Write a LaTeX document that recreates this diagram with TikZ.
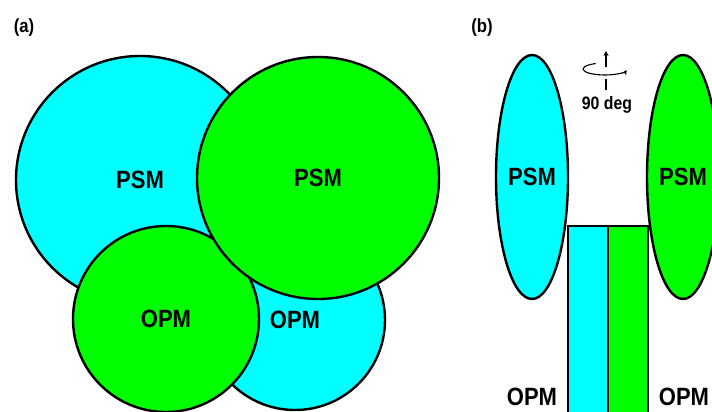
\documentclass[tikz,border=0pt]{standalone}
\usepackage{fontspec}
\setmainfont{Liberation Sans}[FakeStretch=0.88]
\usepackage{tikz}
\usetikzlibrary{positioning,arrows.meta,shapes.geometric}

\begin{document}
\begin{tikzpicture}[x=1pt,y=-1pt]
	\definecolor{magcyan}{RGB}{0,255,255}
	\definecolor{maggreen}{RGB}{0,255,0}
	\tikzset{
		magtext/.style={font=\fontsize{25}{30}\selectfont\bfseries, text=black},
		magdisc/.style={
			shape=circle,
			draw=black,
			line width=2.4pt,
			inner sep=0pt,
			magtext
		},
		magoval/.style={
			shape=ellipse,
			draw=black,
			line width=2.4pt,
			inner sep=0pt,
			minimum width=72pt,
			minimum height=244pt,
			magtext
		},
		magbar/.style={
			shape=rectangle,
			draw=black,
			line width=2.4pt,
			minimum width=40pt,
			minimum height=200pt,
			anchor=north west,
			inner sep=0pt
		},
		panel/.style={font=\fontsize{19}{22}\selectfont\bfseries},
		rotarrow/.style={line width=1.1pt, -{Stealth[length=5pt,width=5pt]}}
	}
	\useasboundingbox (0,0) rectangle (712,412);

	% (a) four magnets seen from the front
	\node[panel] (pa) at (24,28) {(a)};
	\node[magdisc, fill=magcyan, minimum size=248pt] (psmA) at (140,180) {PSM};
	\node[magdisc, fill=magcyan, minimum size=180pt] (opmA) at (295,320) {OPM};
	\node[magdisc, fill=maggreen, minimum size=186pt] (opmB) at (166,319) {OPM};
	\node[magdisc, fill=maggreen, minimum size=242pt] (psmB) at (318,178) {PSM};

	% (b) the same set turned by 90 deg
	\node[panel] (pb) at (482,28) {(b)};
	\node[magoval, fill=magcyan] (psmC) at (532,177) {PSM};
	\node[magoval, fill=maggreen] (psmD) at (683,177) {PSM};
	\node[magbar, fill=magcyan] (opmC) at (567,225) {};
	\node[magbar, fill=maggreen] (opmD) at (607,225) {};
	\node[magtext] (opmlabC) at (532,397) {OPM};
	\node[magtext] (opmlabD) at (684,397) {OPM};

	% rotation sign
	\coordinate (rotc) at (605,69);
	\coordinate (axtop) at (606,51);
	\coordinate (axmid) at (606,67);
	\coordinate (axlow) at (606,79);
	\coordinate (axbot) at (606,90);
	\draw[rotarrow] (axmid) -- (axtop);
	\draw[line width=1.1pt] (axlow) -- (axbot);
	\draw[rotarrow] ([shift={(245:22 and 6)}]rotc) arc[start angle=245, end angle=10, x radius=22, y radius=6];
	\node[font=\fontsize{18}{20}\selectfont\bfseries] (deglab) at (607,105) {90 deg};
\end{tikzpicture}
\end{document}
